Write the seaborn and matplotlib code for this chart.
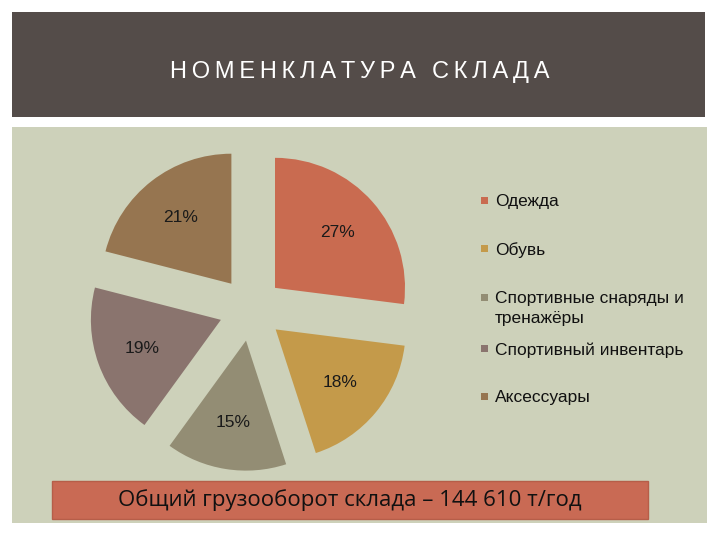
import matplotlib
matplotlib.use("Agg")
import matplotlib.pyplot as plt
from matplotlib.patches import Rectangle
import seaborn as sns

# ---- data ----
categories = ["Одежда", "Обувь", "Спортивные снаряды и\nтренажёры",
              "Спортивный инвентарь", "Аксессуары"]
shares = [27, 18, 15, 19, 21]
colors = ["#c96b50", "#c49a4a", "#938d74", "#8a746e", "#967550"]
title = "НОМЕНКЛАТУРА СКЛАДА"
footer = "Общий грузооборот склада – 144 610 т/год"

sns.set_theme(style="white")
plt.rcParams['font.family'] = ['Liberation Sans', 'DejaVu Sans']

W, H = 720, 540
fig = plt.figure(figsize=(7.2, 5.4), dpi=100, facecolor="white")


def fx(x):
    return x / W


def fy(y):
    return 1 - y / H


def rect(x0, y0, x1, y1, **kw):
    fig.patches.append(Rectangle((fx(x0), fy(y1)), (x1 - x0) / W, (y1 - y0) / H,
                                 transform=fig.transFigure, **kw))


# header band, panel, footer box
rect(12, 12, 705, 117, facecolor="#544c49", edgecolor="none", zorder=0)
rect(12, 127, 707, 523, facecolor="#cdd1ba", edgecolor="none", zorder=0)
rect(52, 481, 648, 519, facecolor="#c96a54", edgecolor="#b65e49", lw=1, zorder=1)

fig.text(fx(360), fy(72), "\u2009".join(title), color="white", fontsize=17,
         ha="center", va="center")
fig.text(fx(118), fy(500), footer, fontsize=16, ha="left", va="center",
         color="#111111", family=["Open Sans", "DejaVu Sans"], zorder=3)

# pie
ax = fig.add_axes([fx(101), fy(459), 300 / W, 300 / H])
ax.set_zorder(2)
ax.patch.set_alpha(0)
wedges, texts, autotexts = ax.pie(
    shares, colors=colors, startangle=90, counterclock=False, radius=1.3,
    explode=[0.32] * len(shares), autopct="%.0f%%", pctdistance=0.64,
    textprops=dict(fontsize=12.5, color="#1a1a1a"),
    wedgeprops=dict(linewidth=0))
ax.set_xlim(-1.5, 1.5)
ax.set_ylim(-1.5, 1.5)
ax.set_aspect("equal")
ax.axis("off")

# legend (manual layout)
leg_y = [201, 249, 298, 349, 397]
for cat, col, y in zip(categories, colors, leg_y):
    rect(481, y - 4, 488, y + 3, facecolor=col, edgecolor="none", zorder=2)
    fig.text(fx(495), fy(y - 7), cat, fontsize=12.5, ha="left", va="top",
             color="#111111", linespacing=1.4)

fig.savefig("out.png", dpi=100, facecolor="white")
